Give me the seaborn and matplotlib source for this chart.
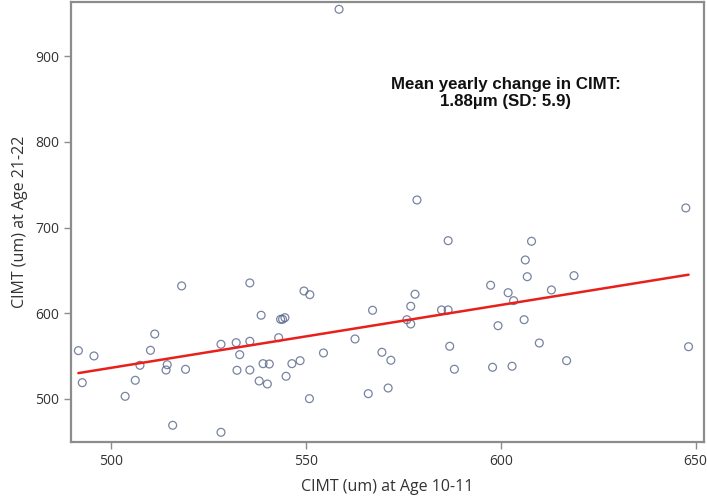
import numpy as np
import pandas as pd
import matplotlib
matplotlib.use('Agg')
import matplotlib.pyplot as plt
import seaborn as sns

# CIMT at age 10-11 (x) and at age 21-22 (y)
cimt_10 = [491.6, 492.6, 495.6, 503.6, 506.2, 507.4, 510.1, 511.2, 514.4, 514.1,
           515.8, 518.1, 519.1, 528.2, 528.2, 532.1, 533.0, 532.3, 535.6, 535.6,
           535.6, 538.5, 538.0, 539.0, 540.6, 540.1, 543.0, 543.5, 544.0, 544.6,
           544.9, 546.4, 548.5, 549.5, 551.0, 550.9, 554.5, 562.6, 567.1, 566.0,
           569.5, 571.8, 571.1, 578.5, 586.5, 578.0, 576.9, 575.9, 576.9, 584.8,
           586.5, 586.9, 588.1, 597.4, 599.3, 597.9, 601.9, 603.3, 602.9, 606.0,
           606.3, 606.8, 607.9, 609.9, 613.0, 618.8, 616.9, 647.5, 648.2, 558.5]
cimt_21 = [556.4, 519.0, 550.2, 503.1, 521.8, 539.3, 556.8, 575.8, 540.0, 533.8,
           469.3, 631.9, 534.6, 563.8, 461.1, 565.7, 551.7, 533.5, 635.4, 567.3,
           533.8, 597.7, 521.0, 541.2, 540.8, 517.5, 571.5, 593.0, 593.0, 594.9,
           526.5, 541.2, 544.7, 626.0, 621.7, 500.4, 553.7, 570.0, 603.5, 506.2,
           554.5, 545.2, 512.8, 732.2, 684.7, 622.2, 608.2, 592.5, 587.5, 603.9,
           603.9, 561.5, 534.7, 632.7, 585.5, 537.0, 624.0, 614.7, 538.2, 592.5,
           662.2, 642.7, 684.0, 565.3, 627.2, 643.9, 544.7, 722.9, 561.0, 954.7]

df = pd.DataFrame({'x': cimt_10, 'y': cimt_21})

sns.set_style('white')
plt.rcParams['font.family'] = ['Open Sans', 'DejaVu Sans']

fig = plt.figure(figsize=(7.07, 5.0), dpi=100)
ax = fig.add_axes([0.1004, 0.116, 0.895, 0.88])

sns.regplot(data=df, x='x', y='y', ax=ax, ci=None,
            scatter_kws={'s': 32, 'facecolors': 'none', 'edgecolors': '#56658a',
                         'linewidths': 0.9},
            line_kws={'color': '#e8201c', 'lw': 1.8})

ax.set_xlim(489.7, 652.1)
ax.set_ylim(449.8, 963.2)
ax.set_xticks([500, 550, 600, 650])
ax.set_yticks([500, 600, 700, 800, 900])

for s in ax.spines.values():
    s.set_color('#8c8c8c')
    s.set_linewidth(1.6)

ax.tick_params(axis='both', which='both', direction='out', length=5, width=1,
               color='#8c8c8c', labelsize=10, labelcolor='#333333',
               bottom=True, left=True)

ax.set_xlabel('CIMT (um) at Age 10-11', fontsize=11.5, color='#333333', labelpad=7)
ax.set_ylabel('CIMT (um) at Age 21-22', fontsize=11.5, color='#333333', labelpad=5)

ax.text(601.3, 857, 'Mean yearly change in CIMT:\n1.88µm (SD: 5.9)',
        ha='center', va='center', multialignment='center',
        fontsize=12.2, fontweight='bold', family=['Liberation Sans', 'DejaVu Sans'],
        color='#111111', linespacing=1.15)

fig.savefig('out.png', dpi=100)
